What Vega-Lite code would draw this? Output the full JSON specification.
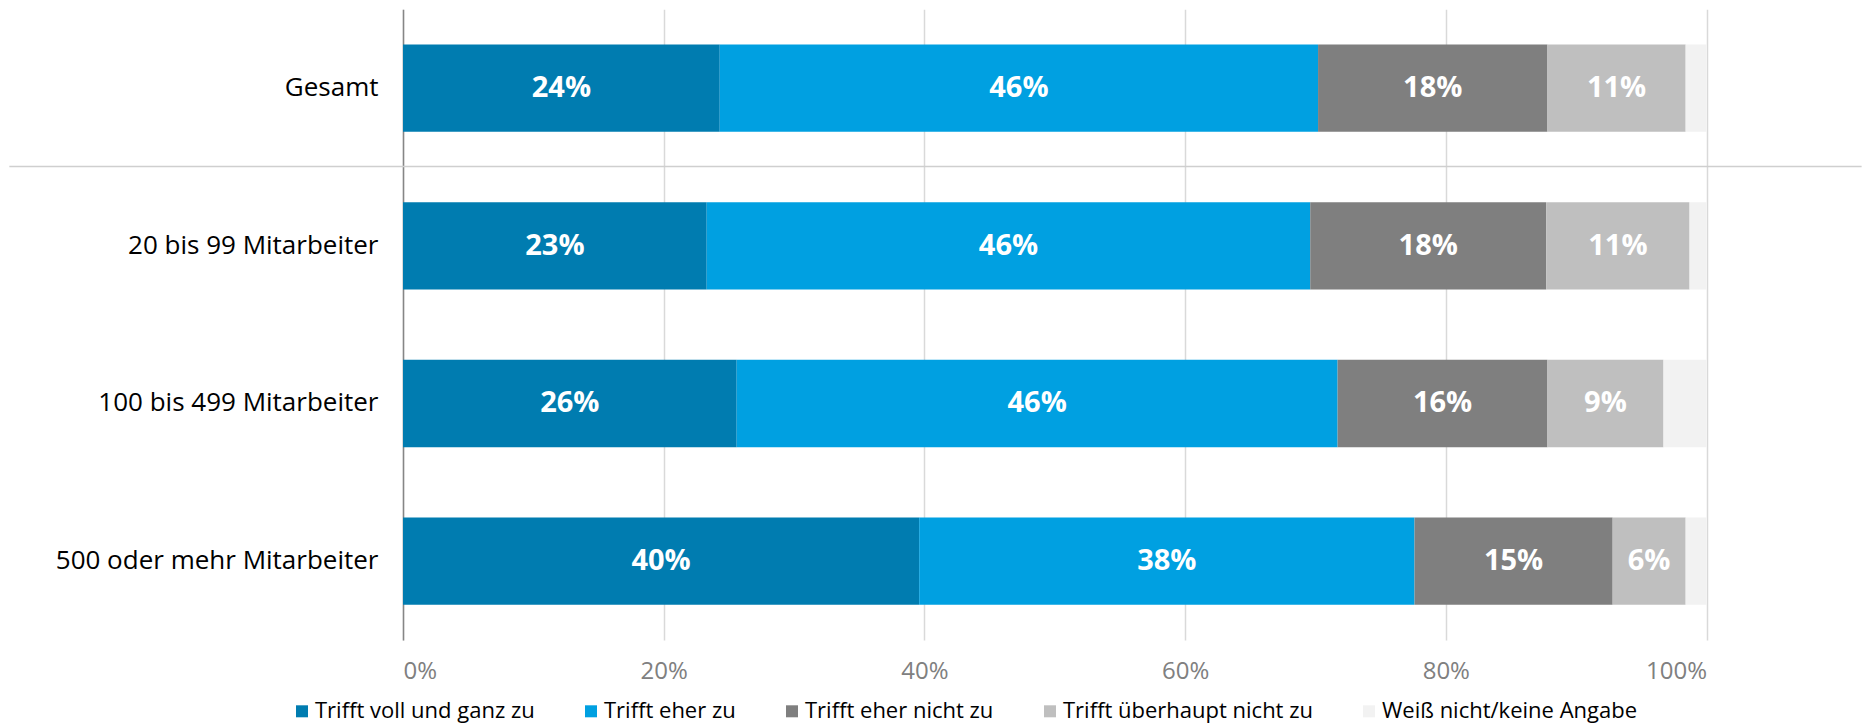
{
  "$schema": "https://vega.github.io/schema/vega-lite/v6.json",
  "width": 1303.5,
  "height": 630.7,
  "autosize": {"type": "none"},
  "padding": {"left": 403, "top": 9.3, "right": 155.5, "bottom": 86},
  "background": "white",
  "config": {
    "view": {"stroke": null},
    "font": "Open Sans"
  },
  "data": {
    "values": [
      {"g": "Gesamt", "c": "Trifft voll und ganz zu", "o": 1, "v": 0.243},
      {"g": "Gesamt", "c": "Trifft eher zu", "o": 2, "v": 0.459},
      {"g": "Gesamt", "c": "Trifft eher nicht zu", "o": 3, "v": 0.176},
      {"g": "Gesamt", "c": "Trifft überhaupt nicht zu", "o": 4, "v": 0.106},
      {"g": "Gesamt", "c": "Weiß nicht/keine Angabe", "o": 5, "v": 0.016},
      {"g": "20 bis 99 Mitarbeiter", "c": "Trifft voll und ganz zu", "o": 1, "v": 0.233},
      {"g": "20 bis 99 Mitarbeiter", "c": "Trifft eher zu", "o": 2, "v": 0.463},
      {"g": "20 bis 99 Mitarbeiter", "c": "Trifft eher nicht zu", "o": 3, "v": 0.181},
      {"g": "20 bis 99 Mitarbeiter", "c": "Trifft überhaupt nicht zu", "o": 4, "v": 0.11},
      {"g": "20 bis 99 Mitarbeiter", "c": "Weiß nicht/keine Angabe", "o": 5, "v": 0.013},
      {"g": "100 bis 499 Mitarbeiter", "c": "Trifft voll und ganz zu", "o": 1, "v": 0.256},
      {"g": "100 bis 499 Mitarbeiter", "c": "Trifft eher zu", "o": 2, "v": 0.461},
      {"g": "100 bis 499 Mitarbeiter", "c": "Trifft eher nicht zu", "o": 3, "v": 0.161},
      {"g": "100 bis 499 Mitarbeiter", "c": "Trifft überhaupt nicht zu", "o": 4, "v": 0.089},
      {"g": "100 bis 499 Mitarbeiter", "c": "Weiß nicht/keine Angabe", "o": 5, "v": 0.033},
      {"g": "500 oder mehr Mitarbeiter", "c": "Trifft voll und ganz zu", "o": 1, "v": 0.396},
      {"g": "500 oder mehr Mitarbeiter", "c": "Trifft eher zu", "o": 2, "v": 0.38},
      {"g": "500 oder mehr Mitarbeiter", "c": "Trifft eher nicht zu", "o": 3, "v": 0.152},
      {"g": "500 oder mehr Mitarbeiter", "c": "Trifft überhaupt nicht zu", "o": 4, "v": 0.056},
      {"g": "500 oder mehr Mitarbeiter", "c": "Weiß nicht/keine Angabe", "o": 5, "v": 0.016}
    ]
  },
  "layer": [
    {
      "mark": {"type": "bar"},
      "encoding": {
        "y": {
          "field": "g",
          "type": "nominal",
          "sort": ["Gesamt", "20 bis 99 Mitarbeiter", "100 bis 499 Mitarbeiter", "500 oder mehr Mitarbeiter"],
          "scale": {"paddingInner": 0.446, "paddingOuter": 0.223},
          "axis": {
            "title": null,
            "domain": true,
            "domainColor": "#868686",
            "domainWidth": 1.5,
            "ticks": false,
            "tickSize": 0,
            "grid": false,
            "labelPadding": 25,
            "labelFontSize": 26,
            "labelFont": "Open Sans",
            "labelColor": "#000000",
            "labelLimit": 500
          }
        },
        "x": {
          "field": "v",
          "type": "quantitative",
          "stack": "zero",
          "scale": {"domain": [0, 1], "nice": false, "zero": true},
          "axis": {
            "title": null,
            "values": [0, 0.2, 0.4, 0.6, 0.8, 1],
            "format": ".0%",
            "domain": false,
            "ticks": false,
            "tickSize": 0,
            "grid": true,
            "gridColor": "#d9d9d9",
            "gridWidth": 1.5,
            "labelPadding": 19,
            "labelFontSize": 24,
            "labelFont": "Open Sans",
            "labelColor": "#808080"
          }
        },
        "color": {
          "field": "c",
          "type": "nominal",
          "scale": {
            "domain": ["Trifft voll und ganz zu", "Trifft eher zu", "Trifft eher nicht zu", "Trifft überhaupt nicht zu", "Weiß nicht/keine Angabe"],
            "range": ["#007cb0", "#00a0e1", "#7f7f7f", "#bfbfbf", "#f2f2f2"]
          },
          "legend": {
            "orient": "none",
            "legendX": -112,
            "legendY": 691,
            "direction": "horizontal",
            "columns": 5,
            "title": null,
            "symbolType": "square",
            "symbolSize": 144,
            "symbolStrokeWidth": 0,
            "labelFontSize": 22,
            "labelFont": "Open Sans",
            "labelColor": "#000000",
            "labelOffset": 2,
            "columnPadding": 45,
            "padding": 0,
            "labelLimit": 400
          }
        },
        "order": {"field": "o", "type": "quantitative"}
      }
    },
    {
      "transform": [{"filter": "datum.c !== 'Weiß nicht/keine Angabe'"}],
      "mark": {"type": "text", "fontWeight": "bold", "fontSize": 29, "font": "Open Sans", "color": "white", "align": "center", "baseline": "middle"},
      "encoding": {
        "y": {"field": "g", "type": "nominal", "sort": ["Gesamt", "20 bis 99 Mitarbeiter", "100 bis 499 Mitarbeiter", "500 oder mehr Mitarbeiter"]},
        "x": {"field": "v", "type": "quantitative", "stack": "zero", "bandPosition": 0.5},
        "detail": {"field": "c", "type": "nominal"},
        "order": {"field": "o", "type": "quantitative"},
        "text": {"field": "v", "type": "quantitative", "format": ".0%"}
      }
    },
    {
      "data": {"values": [{"g": "20 bis 99 Mitarbeiter"}]},
      "mark": {"type": "rule", "color": "#cfcfcf", "strokeWidth": 1.5},
      "encoding": {
        "y": {"field": "g", "type": "nominal", "bandPosition": -0.409, "sort": ["Gesamt", "20 bis 99 Mitarbeiter", "100 bis 499 Mitarbeiter", "500 oder mehr Mitarbeiter"]},
        "x": {"datum": -0.302},
        "x2": {"datum": 1.119}
      }
    }
  ]
}
